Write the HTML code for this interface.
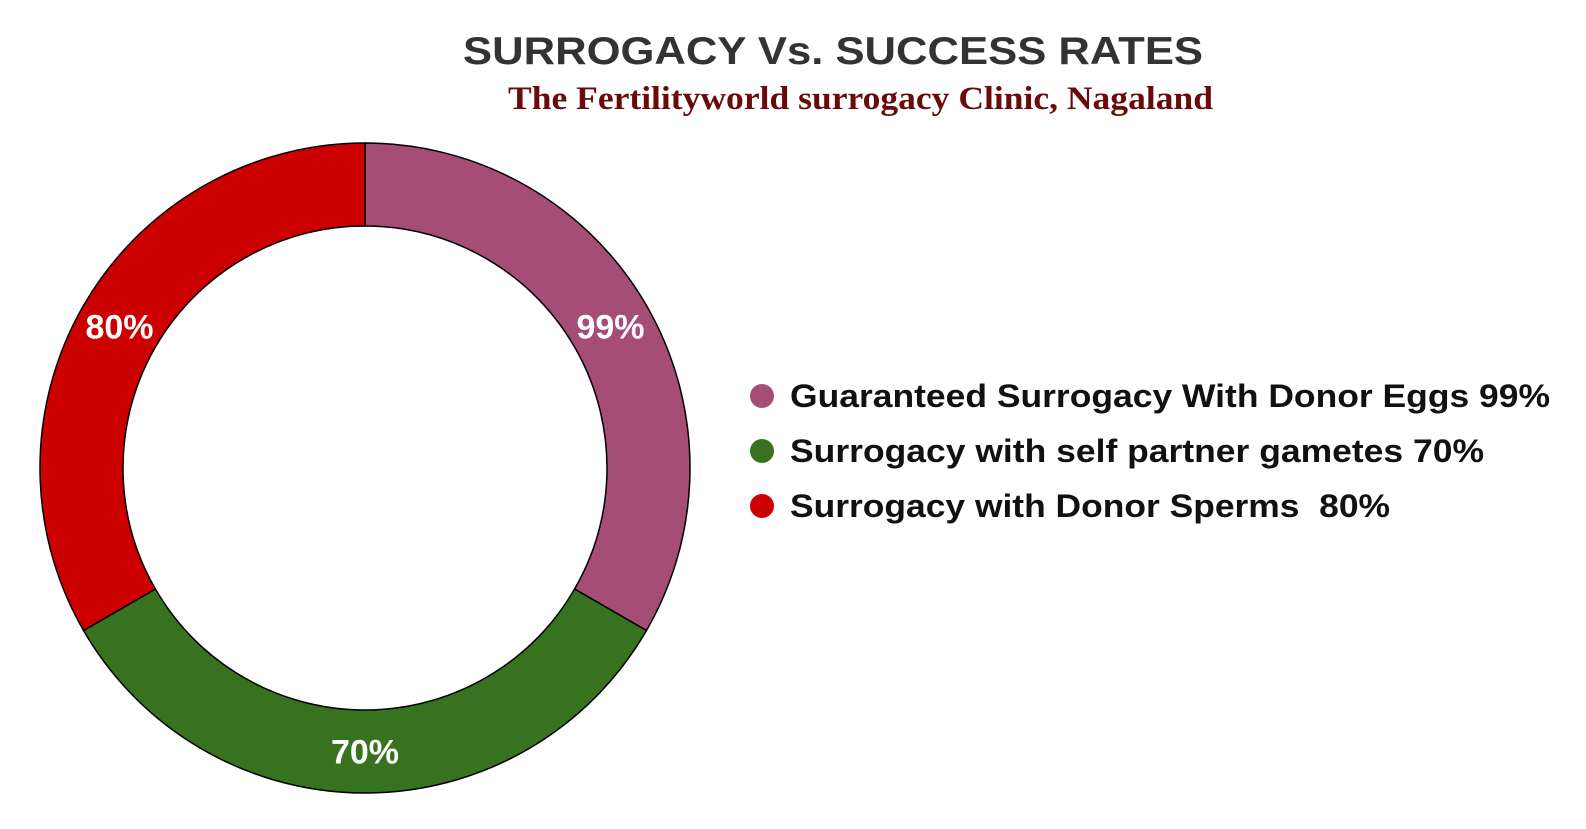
<!DOCTYPE html>
<html><head><meta charset="utf-8"><style>
body{margin:0;background:#fff;width:1586px;height:829px;overflow:hidden}
svg{display:block}
</style></head><body>
<svg id="chart" width="1586" height="829">
<text x="463" y="64" textLength="740" lengthAdjust="spacingAndGlyphs" font-family="Liberation Sans, sans-serif" font-weight="bold" font-size="39" fill="#333">SURROGACY Vs. SUCCESS RATES</text>
<text x="508" y="109" textLength="705" lengthAdjust="spacingAndGlyphs" font-family="Liberation Serif, serif" font-weight="bold" font-size="33" fill="#6b0a0a">The Fertilityworld surrogacy Clinic, Nagaland</text>
<g id="slices"></g>
<g id="legend"></g>
</svg>
<script>
const categories = ["Guaranteed Surrogacy With Donor Eggs 99%", "Surrogacy with self partner gametes 70%", "Surrogacy with Donor Sperms  80%"];
const values = [1, 1, 1];
const sliceLabels = ["99%", "70%", "80%"];
const colors = ["#a54d77", "#37731f", "#cc0000"];
const legendWidths = [760, 694, 600];
const NS = "http://www.w3.org/2000/svg";
const cx = 365, cy = 468, R = 325, r = 242;
const total = values.reduce((a, b) => a + b, 0);
const sg = document.getElementById("slices");
function pt(rad, a) { return [cx + rad * Math.sin(a), cy - rad * Math.cos(a)]; }
let acc = 0;
values.forEach((v, i) => {
  const a0 = acc / total * 2 * Math.PI; acc += v;
  const a1 = acc / total * 2 * Math.PI;
  const large = (a1 - a0) > Math.PI ? 1 : 0;
  const [x0, y0] = pt(R, a0), [x1, y1] = pt(R, a1), [x2, y2] = pt(r, a1), [x3, y3] = pt(r, a0);
  const p = document.createElementNS(NS, "path");
  p.setAttribute("d", `M${x0},${y0} A${R},${R} 0 ${large} 1 ${x1},${y1} L${x2},${y2} A${r},${r} 0 ${large} 0 ${x3},${y3} Z`);
  p.setAttribute("fill", colors[i]);
  p.setAttribute("stroke", "#000");
  p.setAttribute("stroke-width", "1.5");
  
  
  sg.appendChild(p);
  const am = (a0 + a1) / 2;
  const [lx, ly] = pt((R + r) / 2, am);
  const t = document.createElementNS(NS, "text");
  t.setAttribute("x", lx); t.setAttribute("y", ly + 12);
  t.setAttribute("text-anchor", "middle");
  t.setAttribute("font-family", "Liberation Sans, sans-serif");
  t.setAttribute("font-weight", "bold");
  t.setAttribute("font-size", "34");
  t.setAttribute("fill", "#fff");
  t.textContent = sliceLabels[i];
  
  
  sg.appendChild(t);
});
const lg = document.getElementById("legend");
categories.forEach((c, i) => {
  const y = 396 + i * 55;
  const d = document.createElementNS(NS, "circle");
  d.setAttribute("cx", 762); d.setAttribute("cy", y); d.setAttribute("r", 12);
  d.setAttribute("fill", colors[i]);
  
  
  lg.appendChild(d);
  const t = document.createElementNS(NS, "text");
  t.setAttribute("x", 790); t.setAttribute("y", y + 11);
  t.setAttribute("font-family", "Liberation Sans, sans-serif");
  t.setAttribute("font-weight", "bold");
  t.setAttribute("font-size", "32");
  t.setAttribute("fill", "#111");
  t.setAttribute("textLength", legendWidths[i]);
  t.setAttribute("lengthAdjust", "spacingAndGlyphs");
  t.style.whiteSpace = "pre";
  t.textContent = c;
  
  
  lg.appendChild(t);
});
</script>
</body></html>
